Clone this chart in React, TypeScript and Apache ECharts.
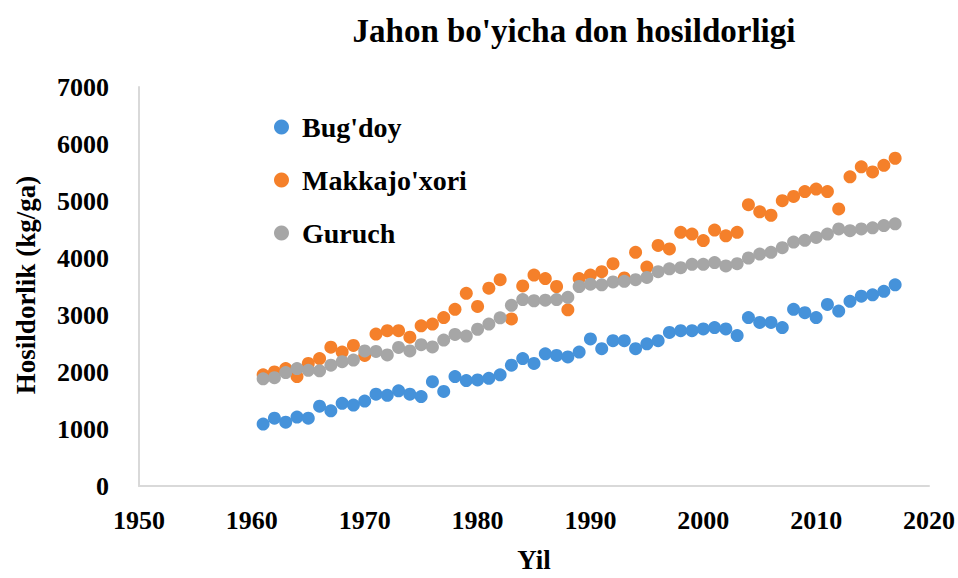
import React, { useEffect, useRef } from "react";
import * as echarts from "echarts";

const years: number[] = [];
for (let y = 1961; y <= 2017; y++) years.push(y);

const wheat = [
  1086, 1190, 1120, 1210, 1190, 1400, 1320, 1450, 1420, 1490,
  1610, 1590, 1670, 1610, 1570, 1830, 1660, 1920, 1850, 1860,
  1890, 1950, 2120, 2235, 2150, 2320, 2290, 2265, 2350, 2580,
  2410, 2550, 2550, 2410, 2495, 2550, 2695, 2725, 2725, 2755,
  2780, 2755, 2640, 2955, 2870, 2870, 2780, 3100, 3040, 2955,
  3185, 3070, 3240, 3330, 3355, 3415, 3530,
];

const maize = [
  1950, 2000, 2060, 1920, 2150, 2235, 2435, 2350, 2465, 2290,
  2665, 2725, 2725, 2610, 2810, 2840, 2955, 3100, 3380, 3150,
  3470, 3620, 2930, 3510, 3700, 3640, 3500, 3090, 3640, 3700,
  3760, 3900, 3650, 4100, 3840, 4220, 4160, 4450, 4420, 4305,
  4490, 4390, 4450, 4935, 4810, 4750, 5005, 5080, 5165, 5210,
  5165, 4860, 5425, 5600, 5510, 5625, 5750,
];

const rice = [
  1880, 1900, 1990, 2060, 2030, 2020, 2120, 2180, 2210, 2370,
  2360, 2300, 2430, 2370, 2480, 2440, 2560, 2660, 2630, 2750,
  2840, 2950, 3170, 3270, 3250, 3260, 3270, 3310, 3500, 3540,
  3530, 3580, 3590, 3620, 3660, 3760, 3810, 3830, 3890, 3890,
  3920, 3860, 3900, 4000, 4070, 4100, 4180, 4280, 4310, 4360,
  4420, 4510, 4480, 4510, 4530, 4570, 4600,
];

const seriesNames = ["Bug'doy", "Makkajo'xori", "Guruch"];
const seriesColors = ["#4592DA", "#F5802A", "#A6A6A6"];

const pairs = (vals: number[]) => years.map((y, i) => [y, vals[i]]);

export default function App() {
  const ref = useRef<HTMLDivElement>(null);
  useEffect(() => {
    if (!ref.current) return;
    const chart = echarts.init(ref.current, undefined, { renderer: "svg" });
    const font = "'Liberation Serif', 'Times New Roman', serif";
    const data = [wheat, maize, rice];
    chart.setOption({
      animation: false,
      backgroundColor: "#ffffff",
      textStyle: { fontFamily: font },
      title: {
        text: "Jahon bo'yicha don hosildorligi",
        left: 569,
        top: 9,
        textAlign: "center",
        textStyle: { fontFamily: font, fontSize: 33, fontWeight: "bold", color: "#000" },
      },
      legend: {
        orient: "vertical",
        left: 269,
        top: 108,
        itemGap: 25,
        itemWidth: 15,
        itemHeight: 15,
        icon: "circle",
        data: seriesNames,
        textStyle: { fontFamily: font, fontSize: 28, fontWeight: "bold", color: "#000", padding: [0, 0, 0, 8] },
      },
      graphic: [
        {
          type: "text",
          rotation: Math.PI / 2,
          x: 26,
          y: 285,
          style: {
            text: "Hosildorlik (kg/ga)",
            font: "bold 27px 'Liberation Serif', serif",
            fill: "#000",
            align: "center",
            verticalAlign: "middle",
          },
        },
      ],
      grid: { left: 139, right: 20, top: 87, bottom: 85, containLabel: false },
      xAxis: {
        type: "value",
        min: 1950,
        max: 2020,
        interval: 10,
        name: "Yil",
        nameLocation: "middle",
        nameGap: 60,
        nameTextStyle: { fontFamily: font, fontSize: 27, fontWeight: "bold", color: "#000" },
        axisLine: { show: true, lineStyle: { color: "#D9D9D9", width: 2 } },
        axisTick: { show: false },
        splitLine: { show: false },
        axisLabel: {
          fontFamily: font, fontSize: 26, fontWeight: "bold", color: "#000", margin: 21,
          formatter: (v: number) => String(v),
        },
      },
      yAxis: {
        type: "value",
        min: 0,
        max: 7000,
        interval: 1000,
        axisLine: { show: true, lineStyle: { color: "#D9D9D9", width: 2 } },
        axisTick: { show: false },
        splitLine: { show: false },
        axisLabel: {
          fontFamily: font, fontSize: 26, fontWeight: "bold", color: "#000", margin: 30,
          formatter: (v: number) => String(v),
        },
      },
      series: seriesNames.map((name, i) => ({
        name,
        type: "scatter",
        symbol: "circle",
        symbolSize: 13,
        itemStyle: { color: seriesColors[i], opacity: 1 },
        data: pairs(data[i]),
      })),
    });
    return () => chart.dispose();
  }, []);
  return (
    <div
      ref={ref}
      style={{ position: "absolute", left: 0, top: 0, width: 958, height: 578 }}
    />
  );
}
